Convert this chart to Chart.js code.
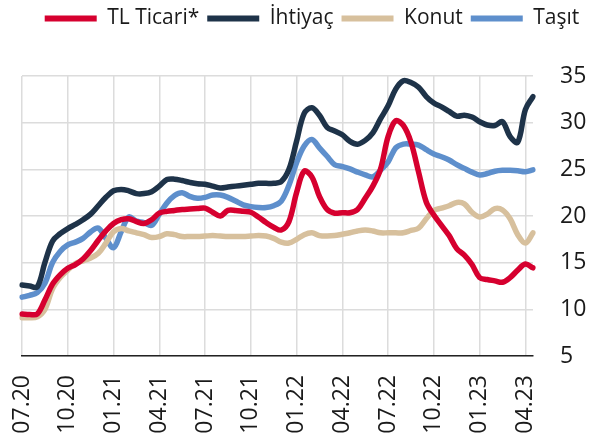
<!DOCTYPE html>
<html>
<head>
<meta charset="utf-8">
<script src="https://cdn.jsdelivr.net/npm/chart.js@4"></script>
<style>
html,body{margin:0;padding:0;background:#fff;}
#wrap{width:602px;height:442px;}
</style>
</head>
<body>
<div id="wrap"><canvas id="c"></canvas></div>
<script>
// half-monthly points, 07.20 .. 04.23
const tickLabels=['07.20','10.20','01.21','04.21','07.21','10.21','01.22','04.22','07.22','10.22','01.23','04.23'];
const perQuarter=6;
const tlTicari=[9.5,9.45,9.5,11.0,12.7,13.7,14.4,14.8,15.4,16.3,17.4,18.4,19.2,19.6,19.7,19.4,19.2,19.6,20.3,20.5,20.6,20.7,20.75,20.8,20.85,20.4,20.0,20.6,20.6,20.5,20.4,19.9,19.3,18.8,18.5,19.4,22.5,24.8,24.2,22.1,20.7,20.3,20.35,20.35,20.7,21.9,23.2,25.0,28.5,30.2,29.7,27.9,24.7,21.5,20.1,19.0,17.9,16.5,15.8,14.8,13.4,13.2,13.05,12.9,13.4,14.2,14.85,14.45];
const ihtiyac=[12.6,12.5,12.4,15.0,17.3,18.1,18.65,19.1,19.6,20.2,21.1,22.0,22.7,22.85,22.7,22.4,22.4,22.6,23.2,23.9,23.95,23.8,23.6,23.45,23.4,23.2,23.0,23.1,23.2,23.3,23.4,23.5,23.5,23.5,23.7,25.0,28.0,31.0,31.6,30.8,29.5,29.1,28.7,28.0,27.7,28.1,28.9,30.4,31.8,33.6,34.5,34.3,33.8,32.8,32.1,31.7,31.2,30.7,30.8,30.6,30.1,29.75,29.7,30.1,28.5,27.9,31.4,32.8];
const konut=[9.1,9.1,9.2,10.0,12.2,13.4,14.2,14.9,15.2,15.5,16.0,17.1,18.3,18.65,18.4,18.2,18.0,17.7,17.8,18.1,18.0,17.8,17.8,17.8,17.85,17.9,17.85,17.8,17.8,17.8,17.85,17.9,17.85,17.6,17.2,17.1,17.5,18.0,18.2,17.9,17.85,17.9,18.05,18.2,18.4,18.5,18.4,18.2,18.2,18.2,18.2,18.45,18.7,19.7,20.6,20.85,21.1,21.45,21.3,20.4,19.9,20.2,20.8,20.65,19.7,18.0,17.1,18.2];
const tasit=[11.3,11.5,11.8,12.8,15.0,16.2,16.9,17.2,17.6,18.3,18.7,17.6,16.6,18.3,19.9,19.45,19.3,19.0,20.2,21.4,22.2,22.5,22.1,21.9,22.0,22.25,22.25,22.0,21.6,21.2,21.0,20.9,20.9,21.1,21.6,23.3,25.7,27.5,28.2,27.3,26.4,25.5,25.3,25.05,24.7,24.4,24.2,24.9,25.8,27.3,27.7,27.7,27.6,27.1,26.65,26.35,26.0,25.5,25.1,24.7,24.4,24.55,24.8,24.9,24.9,24.85,24.75,24.95];
const yTicks={min:5,max:35,step:5};

const labels=tlTicari.map((_,i)=>i%perQuarter===0?tickLabels[i/perQuarter]:'');
const FONT='"Open Sans", "Noto Sans", sans-serif';
const TXT='#1a1a1a';

function ds(label,data,color){
  return {label,data,borderColor:color,backgroundColor:color,borderWidth:5.5,pointRadius:0,tension:0.35,borderCapStyle:'round',borderJoinStyle:'round'};
}

// fixed legend band above the plot
const legendBand={id:'legendBand',beforeInit(chart){
  const fit=chart.legend.fit;
  chart.legend.fit=function(){fit.bind(chart.legend)();this.height=76;};
}};

new Chart(document.getElementById('c'),{
  type:'line',
  data:{labels,datasets:[
    ds('TL Ticari*',tlTicari,'#d6002f'),
    ds('İhtiyaç',ihtiyac,'#1e3349'),
    ds('Konut',konut,'#d7c09d'),
    ds('Taşıt',tasit,'#5e8fcc')
  ]},
  options:{
    responsive:true,maintainAspectRatio:false,animation:false,
    layout:{padding:{left:22,right:0,top:0,bottom:0}},
    plugins:{
      tooltip:{enabled:false},
      legend:{position:'top',align:'center',labels:{
        font:{family:FONT,size:21},color:TXT,boxWidth:52,boxHeight:6,padding:8,useBorderRadius:true,borderRadius:3,
        generateLabels(chart){return chart.data.datasets.map((d,i)=>({text:d.label,fillStyle:d.borderColor,strokeStyle:d.borderColor,lineWidth:0,datasetIndex:i,fontColor:TXT}));}
      }}
    },
    scales:{
      x:{
        afterFit(s){s.height=86;},
        ticks:{autoSkip:false,minRotation:90,maxRotation:90,padding:19,font:{family:FONT,size:23},color:TXT},
        grid:{drawTicks:false,lineWidth:1.5,color:ctx=>ctx.index%perQuarter===0?'#dcdcdc':'rgba(0,0,0,0)'},
        border:{display:true,color:'#222',width:1.5}
      },
      y:{
        position:'right',min:yTicks.min,max:yTicks.max,
        afterFit(s){s.width=69;},
        ticks:{stepSize:yTicks.step,padding:27,font:{family:FONT,size:23},color:TXT},
        grid:{drawTicks:false,lineWidth:1.5,color:'#dcdcdc'},
        border:{display:false}
      }
    }
  },
  plugins:[legendBand]
});
</script>
</body>
</html>
